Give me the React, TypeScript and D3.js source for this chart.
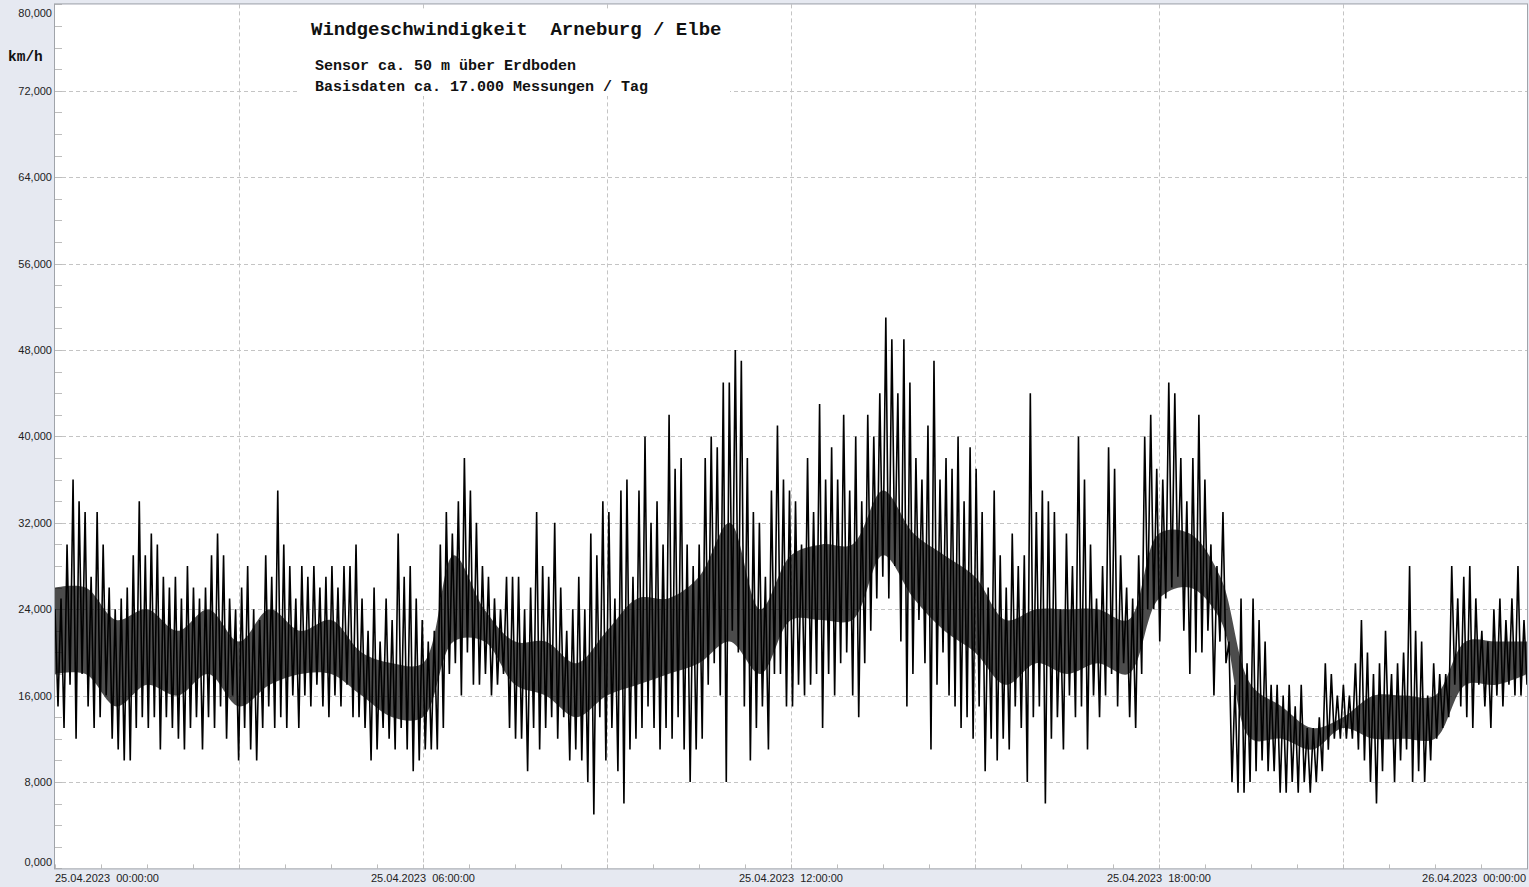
import React from "react";
import * as d3 from "d3";

const W = 1529;
const H = 887;

const titleText = "Windgeschwindigkeit  Arneburg / Elbe";
const subtitle1 = "Sensor ca. 50 m über Erdboden";
const subtitle2 = "Basisdaten ca. 17.000 Messungen / Tag";
const unitLabel = "km/h";

const yTickValues = [0, 8, 16, 24, 32, 40, 48, 56, 64, 72, 80];
const xTickHours = [0, 6, 12, 18, 24];
const xTickLabels = [
  "25.04.2023  00:00:00",
  "25.04.2023  06:00:00",
  "25.04.2023  12:00:00",
  "25.04.2023  18:00:00",
  "26.04.2023  00:00:00",
];

// wind speed km/h, alternating peak / trough readings across 25.04.2023
const windSpeed = [
  24,15, 25,13, 30,17, 36,12, 34,18,
  33,15, 27,13, 33,14, 30,16, 26,12,
  24,11, 25,10, 26,10, 29,13, 34,14,
  29,13, 31,14, 30,11, 27,14, 26,13,
  27,12, 25,11, 28,13, 26,14, 25,11,
  26,14, 29,13, 31,15, 29,12, 25,16,
  24,10, 26,13, 28,11, 24,10, 23,13,
  29,15, 27,13, 35,14, 30,13, 28,16,
  25,13, 28,16, 27,15, 28,17, 26,15,
  27,14, 28,16, 26,15, 28,17, 28,14,
  30,14, 25,13, 22,10, 26,11, 21,13,
  25,12, 23,11, 31,13, 27,11, 28,9,
  25,10, 23,11, 21,11, 22,11, 30,13,
  33,18, 31,19, 34,16, 38,20, 35,17,
  32,17, 28,18, 27,16, 25,17, 24,18,
  27,13, 27,12, 27,12, 24,9, 26,13,
  33,11, 28,13, 27,14, 32,12, 26,14,
  22,10, 24,11, 27,10, 24,8, 31,5,
  29,14, 34,10, 33,13, 25,9, 35,6,
  36,11, 27,12, 35,13, 40,15, 32,13,
  34,11, 30,13, 42,12, 37,14, 38,11,
  30,8, 28,11, 30,12, 38,17, 40,19,
  39,16, 45,8, 45,22, 48,20, 47,15,
  38,10, 33,13, 32,15, 27,11, 35,18,
  41,18, 36,15, 35,15, 34,17, 30,16,
  38,17, 33,18, 43,13, 36,18, 39,16,
  36,19, 42,20, 35,16, 40,14, 34,19,
  42,22, 40,25, 44,27, 51,25, 49,28,
  44,21, 49,15, 45,18, 38,23, 36,19,
  41,11, 47,17, 36,20, 38,16, 37,15,
  40,13, 34,14, 39,12, 37,15, 33,9,
  26,12, 35,10, 29,12, 26,11, 31,15,
  28,13, 29,8, 44,14, 33,15, 35,6,
  34,12, 33,14, 24,11, 31,16, 28,14,
  40,15, 36,11, 30,16, 25,14, 28,16,
  39,18, 37,15, 29,19, 26,14, 25,13,
  29,18, 40,24, 42,24, 37,21, 36,25,
  45,26, 44,27, 38,22, 34,18, 38,20,
  42,20, 36,22, 30,16, 28,21, 33,19,
  21,8, 17,7, 25,7, 19,8, 25,9,
  23,10, 21,9, 17,9, 17,7, 16,7,
  17,8, 15,7, 17,8, 13,7, 13,8,
  14,9, 19,11, 18,12, 16,12, 17,12,
  16,12, 19,11, 23,10, 20,8, 18,6,
  19,9, 22,12, 18,8, 19,10, 20,11,
  28,8, 22,9, 21,8, 16,10, 19,12,
  18,13, 18,14, 28,17, 25,15, 27,14,
  28,13, 25,17, 22,15, 21,13, 24,16,
  25,15, 23,17, 25,16, 28,16, 23,17,
];

// dense core of the trace (where the measurements overlap), per ~30 min
const coreLow = [
  18, 18, 15, 17, 16, 18, 15, 17, 18, 18,
  16, 14, 14, 21, 21, 17, 16, 14, 16, 17,
  18, 19, 21, 18, 23, 23, 23, 29, 25, 22,
  20, 17, 19, 18, 19, 18, 25, 26, 23, 12,
  12, 11, 13, 12, 12, 12, 17, 17, 18,
];
const coreHigh = [
  26, 26, 23, 24, 22, 24, 21, 24, 22, 23,
  20, 19, 19, 29, 24, 21, 21, 19, 22, 25,
  25, 27, 32, 24, 29, 30, 30, 35, 31, 29,
  27, 23, 24, 24, 24, 23, 31, 31, 27, 17,
  15, 13, 14, 16, 16, 16, 21, 21, 21,
];

const start = new Date(2023, 3, 25, 0, 0, 0);
const end = new Date(2023, 3, 26, 0, 0, 0);

const L = 55;
const R = 1527;
const T = 4.4;
const B = 868.4;

export default function App() {
  const x = d3.scaleTime().domain([start, end]).range([L, R]);
  const y = d3.scaleLinear().domain([0, 80]).range([B, T]);
  const de = d3.formatLocale({ decimal: ",", thousands: ".", grouping: [3], currency: ["", "€"] });
  const fmt = de.format(".3f");

  const span = end.getTime() - start.getTime();
  const n = windSpeed.length;
  const pts = windSpeed.map((v, i) => [new Date(start.getTime() + (span * i) / (n - 1)), v] as [Date, number]);
  const line = d3
    .line<[Date, number]>()
    .x((d) => x(d[0]))
    .y((d) => y(d[1]));

  const m = coreLow.length;
  const core = coreLow.map((lo, i) => ({ t: new Date(start.getTime() + (span * i) / (m - 1)), lo, hi: coreHigh[i] }));
  const area = d3
    .area<{ t: Date; lo: number; hi: number }>()
    .x((d) => x(d.t))
    .y0((d) => y(d.lo))
    .y1((d) => y(d.hi))
    .curve(d3.curveCatmullRom);

  const gridX = d3.range(0, 25, 3).map((h) => new Date(start.getTime() + h * 3600000));
  const minorX = d3.range(0, 24 * 60 + 1, 45).map((mm) => new Date(start.getTime() + mm * 60000));
  const minorY = d3.range(0, 80.001, 2);

  const mono = "'Liberation Mono', 'DejaVu Sans Mono', monospace";
  const sans = "'Liberation Sans', Arial, sans-serif";

  return (
    <svg width={W} height={H} style={{ position: "fixed", left: 0, top: 0 }}>
      <rect x={0} y={0} width={W} height={H} fill="#E6E9F1" />
      <rect x={L} y={T} width={R - L} height={B - T} fill="#FFFFFF" />
      {yTickValues.slice(1, -1).map((v) => (
        <line key={"gy" + v} x1={L} x2={R} y1={Math.round(y(v)) + 0.5} y2={Math.round(y(v)) + 0.5} stroke="#C4C4C4" strokeDasharray="4,3" />
      ))}
      {gridX.slice(1, -1).map((d, i) => (
        <line key={"gx" + i} x1={Math.round(x(d)) + 0.5} x2={Math.round(x(d)) + 0.5} y1={T} y2={B} stroke="#C4C4C4" strokeDasharray="4,3" />
      ))}
      {minorY.map((v, i) => (
        <line key={"my" + i} x1={L} x2={L + 7} y1={Math.round(y(v)) + 0.5} y2={Math.round(y(v)) + 0.5} stroke="#BDBDBD" />
      ))}
      {minorX.map((d, i) => (
        <line key={"mx" + i} x1={Math.round(x(d)) + 0.5} x2={Math.round(x(d)) + 0.5} y1={B - 4} y2={B} stroke="#BDBDBD" />
      ))}
      <rect x={300} y={9} width={430} height={87} fill="#FFFFFF" />
      <path d={area(core) || ""} fill="#000000" fillOpacity={0.7} />
      <path d={line(pts) || ""} fill="none" stroke="#000000" strokeWidth={1.6} strokeLinejoin="bevel" />
      <rect x={L - 0.5} y={T - 0.5} width={R - L + 1} height={B - T + 1} fill="none" stroke="#A0A4AA" />
      {yTickValues.map((v) => {
        let yy = y(v) + 4;
        if (v === 80) yy = 16.5;
        if (v === 0) yy = 866;
        return (
          <text key={"ty" + v} x={52} y={yy} textAnchor="end" fontFamily={sans} fontSize={11} fill="#222">
            {fmt(v)}
          </text>
        );
      })}
      {xTickHours.map((h, i) => {
        const xx = x(new Date(start.getTime() + h * 3600000));
        const anchor = i === 0 ? "start" : i === xTickHours.length - 1 ? "end" : "middle";
        return (
          <text key={"tx" + h} x={i === 0 ? xx : i === xTickHours.length - 1 ? xx - 1 : xx} y={882} textAnchor={anchor} fontFamily={sans} fontSize={11} fill="#222" style={{ whiteSpace: "pre" }}>
            {xTickLabels[i]}
          </text>
        );
      })}
      <text x={8} y={61} fontFamily={mono} fontWeight="bold" fontSize={14.5} fill="#111">
        {unitLabel}
      </text>
      <text x={311} y={35} fontFamily={mono} fontWeight="bold" fontSize={19} fill="#111" style={{ whiteSpace: "pre" }}>
        {titleText}
      </text>
      <text x={315} y={69.5} fontFamily={mono} fontWeight="bold" fontSize={15} fill="#111">
        {subtitle1}
      </text>
      <text x={315} y={90.5} fontFamily={mono} fontWeight="bold" fontSize={15} fill="#111">
        {subtitle2}
      </text>
    </svg>
  );
}
